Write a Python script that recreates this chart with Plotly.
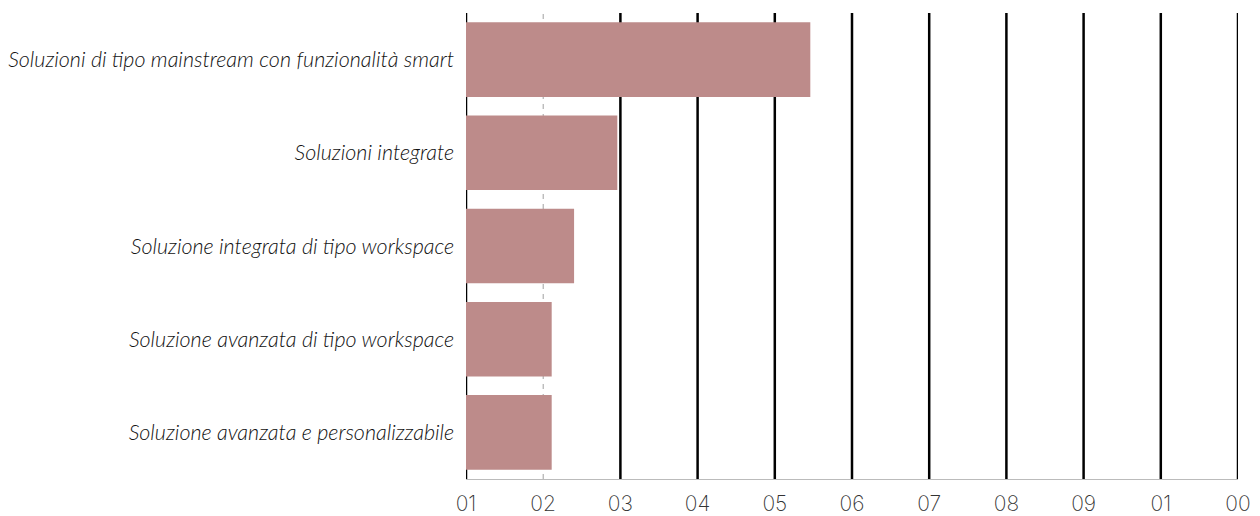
import plotly.graph_objects as go

categories = [
    "Soluzioni di tipo mainstream con funzionalità smart",
    "Soluzioni integrate",
    "Soluzione integrata di tipo workspace",
    "Soluzione avanzata di tipo workspace",
    "Soluzione avanzata e personalizzabile",
]
values = [4.46, 1.96, 1.40, 1.11, 1.11]
tick_vals = [0, 1, 2, 3, 4, 5, 6, 7, 8, 9, 10]
tick_text = ["01", "02", "03", "04", "05", "06", "07", "08", "09", "01", "00"]
dashed_ticks = [1]

fig = go.Figure(
    go.Bar(
        x=values,
        y=categories,
        orientation="h",
        marker=dict(color="#BD8B8A", line=dict(width=0)),
        hoverinfo="x+y",
    )
)

shapes = []
for v in tick_vals:
    if v in dashed_ticks:
        shapes.append(dict(type="line", xref="x", yref="paper", x0=v, x1=v, y0=0, y1=1,
                           line=dict(color="#a0a0a0", width=1, dash="5px,5px"), layer="below"))
    else:
        shapes.append(dict(type="line", xref="x", yref="paper", x0=v, x1=v, y0=0, y1=1,
                           line=dict(color="#000000", width=2.5), layer="below"))

fig.update_layout(
    width=1260,
    height=516,
    margin=dict(l=466, r=22, t=13, b=37, autoexpand=False),
    paper_bgcolor="white",
    plot_bgcolor="white",
    bargap=0.2,
    showlegend=False,
    shapes=shapes,
    xaxis=dict(
        range=[0, 10],
        tickvals=tick_vals,
        ticktext=tick_text,
        showgrid=False,
        zeroline=False,
        showline=True,
        linecolor="#bbbbbb",
        linewidth=1,
        ticks="",
        automargin=False,
        ticklabelstandoff=6,
        tickfont=dict(family="Inter", size=21, color="#333333", weight=200),
    ),
    yaxis=dict(
        autorange="reversed",
        showgrid=False,
        zeroline=False,
        showline=False,
        ticks="",
        automargin=False,
        ticksuffix="  ",
        tickfont=dict(family="Lato", size=21.5, color="#111111", style="italic", weight=300),
    ),
)

fig.write_html("out.html")
